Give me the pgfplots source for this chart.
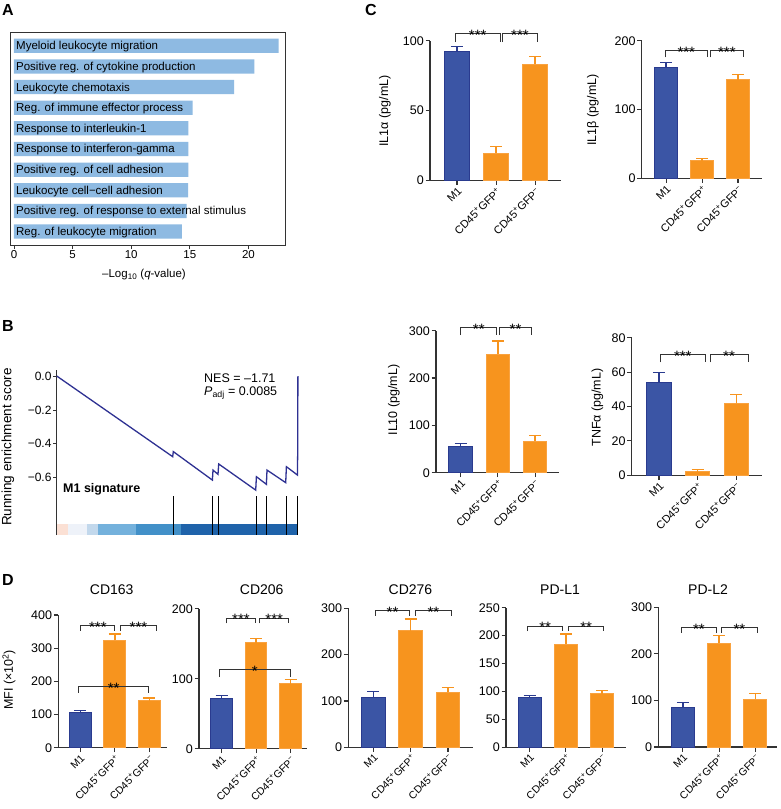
\documentclass[border=0pt]{standalone}
\usepackage{pgfplots}
\pgfplotsset{compat=1.18}
\usepackage{fontspec}
\setmainfont{Liberation Sans}
\usetikzlibrary{calc}

\definecolor{gpblue}{HTML}{3B55A5}
\definecolor{gpbluedk}{HTML}{2A3B8F}
\definecolor{gporange}{HTML}{F7941E}
\definecolor{gporangelt}{HTML}{F9A23F}
\definecolor{abar}{HTML}{8EBAE2}
\definecolor{navy}{HTML}{2E3192}
\definecolor{axgrey}{HTML}{333333}
\definecolor{b1}{HTML}{FBE0D4}
\definecolor{b2}{HTML}{EEF2F9}
\definecolor{b3}{HTML}{C2D8EC}
\definecolor{b4}{HTML}{74B1DC}
\definecolor{b5}{HTML}{4290C8}
\definecolor{b6}{HTML}{1F63AA}

\newcommand{\fs}[1]{\fontsize{#1}{#1}\selectfont}

% significance bracket: x1, x2, top y, tick end y, stars
\newcommand{\brk}[5]{%
  \draw[line width=0.9pt, axgrey] (axis cs:#1,#4) -- (axis cs:#1,#3) -- (axis cs:#2,#3) -- (axis cs:#2,#4);
  \node[anchor=base, inner sep=0pt, yshift=-6.5pt, font=\fs{15}] at ($(axis cs:#1,#3)!0.5!(axis cs:#2,#3)$) {#5};
}

\pgfplotsset{
  gp/.style={anchor=south west, scale only axis, axis lines*=left,
    axis line style={line width=1.1pt, axgrey, -},
    tick style={line width=1.1pt, axgrey},
    tick align=outside, major tick length=4.5pt,
    ymin=0, xtick={1,2,3}, clip=false,
    xticklabels={M1, CD45\textsuperscript{+}GFP\textsuperscript{+}, CD45\textsuperscript{+}GFP\textsuperscript{−}},
    xticklabel style={rotate=45, anchor=north east, inner sep=1pt, font=\fs{10.5}},
    yticklabel style={font=\fs{12.5}, inner sep=1.5pt},
    /pgf/number format/assume math mode=true},
  gpb/.style={ybar, bar width=0.63, bar shift=0pt, fill=gpblue, draw=gpbluedk, line width=1pt,
    error bars/.cd, y dir=plus, y explicit,
    error bar style={line width=1.4pt, gpbluedk},
    error mark options={rotate=90, mark size=6pt, line width=1.4pt, gpbluedk}},
  gpo/.style={ybar, bar width=0.63, bar shift=0pt, fill=gporange, draw=gporangelt, line width=1pt,
    error bars/.cd, y dir=plus, y explicit,
    error bar style={line width=1.4pt, gporange},
    error mark options={rotate=90, mark size=6pt, line width=1.4pt, gporange}},
}

\begin{document}
\begin{tikzpicture}
\path[use as bounding box, fill=white] (0pt,0pt) rectangle (781pt,-809pt);

% ---------- panel labels
\node[font=\bfseries\fs{16}] at (8pt,-10pt) {A};
\node[font=\bfseries\fs{16}] at (8pt,-326pt) {B};
\node[font=\bfseries\fs{16}] at (371pt,-10pt) {C};
\node[font=\bfseries\fs{16}] at (8pt,-580pt) {D};

% ---------- A: GO terms
\begin{axis}[at={(10pt,-245pt)}, anchor=south west, scale only axis,
  width=275pt, height=212.7pt,
  xmin=-0.34, xmax=23.12, ymin=0.35, ymax=10.65, y dir=reverse,
  axis line style={line width=0.8pt, axgrey},
  ytick=\empty, xtick={0,5,10,15,20}, xtick pos=left,
  tick align=outside, major tick length=4pt,
  tick style={line width=0.8pt, axgrey},
  xticklabel style={font=\fs{11.5}, inner sep=1.5pt},
  /pgf/number format/assume math mode=true, clip=false]
\addplot[xbar, bar width=0.69, bar shift=0pt, fill=abar, draw=none] coordinates {
  (22.58,1) (20.50,2) (18.77,3) (15.25,4) (14.87,5)
  (14.87,6) (14.87,7) (14.85,8) (14.73,9) (14.33,10)};
\begin{scope}[every node/.style={anchor=base west, inner sep=0pt, yshift=-4pt, font=\fs{11.5}}]
\node at (axis cs:0.17,1) {Myeloid leukocyte migration};
\node at (axis cs:0.17,2) {Positive reg. of cytokine production};
\node at (axis cs:0.17,3) {Leukocyte chemotaxis};
\node at (axis cs:0.17,4) {Reg. of immune effector process};
\node at (axis cs:0.17,5) {Response to interleukin-1};
\node at (axis cs:0.17,6) {Response to interferon-gamma};
\node at (axis cs:0.17,7) {Positive reg. of cell adhesion};
\node at (axis cs:0.17,8) {Leukocyte cell−cell adhesion};
\node at (axis cs:0.17,9) {Positive reg. of response to external stimulus};
\node at (axis cs:0.17,10) {Reg. of leukocyte migration};
\end{scope}
\end{axis}
\node[font=\fs{11.5}] at (144pt,-275pt) {–Log\textsubscript{10} (\textit{q}-value)};

% ---------- B: GSEA
\begin{axis}[at={(56.7pt,-535pt)}, anchor=south west, scale only axis,
  width=241pt, height=165pt,
  xmin=0, xmax=241, ymin=-0.938, ymax=0.0354,
  axis lines*=left, axis line style={line width=0.8pt, axgrey, -},
  x axis line style={draw=none}, xtick=\empty,
  ytick={-0.6,-0.4,-0.2,0}, yticklabels={−0.6,−0.4,−0.2,0.0},
  tick align=outside, major tick length=3.5pt,
  tick style={line width=0.8pt, axgrey},
  yticklabel style={font=\fs{12}, inner sep=1.5pt}, clip=false]
\addplot[fill=b1, draw=none] coordinates {(0,-0.938) (11,-0.938) (11,-0.873) (0,-0.873)};
\addplot[fill=b2, draw=none] coordinates {(11,-0.938) (30.7,-0.938) (30.7,-0.873) (11,-0.873)};
\addplot[fill=b3, draw=none] coordinates {(30.7,-0.938) (41.7,-0.938) (41.7,-0.873) (30.7,-0.873)};
\addplot[fill=b4, draw=none] coordinates {(41.7,-0.938) (79,-0.938) (79,-0.873) (41.7,-0.873)};
\addplot[fill=b5, draw=none] coordinates {(79,-0.938) (124.3,-0.938) (124.3,-0.873) (79,-0.873)};
\addplot[fill=b6, draw=none] coordinates {(124.3,-0.938) (241,-0.938) (241,-0.873) (124.3,-0.873)};
\addplot[black, line width=0.7pt] coordinates {(116.3,-0.708) (116.3,-0.938)};
\addplot[black, line width=0.7pt] coordinates {(156,-0.708) (156,-0.938)};
\addplot[black, line width=0.7pt] coordinates {(161.7,-0.708) (161.7,-0.938)};
\addplot[black, line width=0.7pt] coordinates {(199.3,-0.708) (199.3,-0.938)};
\addplot[black, line width=0.7pt] coordinates {(210,-0.708) (210,-0.938)};
\addplot[black, line width=0.7pt] coordinates {(229.3,-0.708) (229.3,-0.938)};
\addplot[black, line width=0.7pt] coordinates {(241,-0.708) (241,-0.938)};
\addplot[navy, line width=1.3pt] coordinates {
  (0,0) (116,-0.476) (116.6,-0.446) (155.7,-0.614) (156.3,-0.555)
  (161.3,-0.580) (162,-0.519) (199,-0.673) (199.7,-0.594) (209.7,-0.639)
  (210.3,-0.555) (229,-0.629) (229.7,-0.535) (240.7,-0.584) (241,-0.45) (241.2,0)};
\end{axis}
\node[anchor=base west, font=\fs{12.5}, inner sep=0pt] at (204pt,-382pt) {NES = –1.71};
\node[anchor=base west, font=\fs{12.5}, inner sep=0pt] at (204pt,-395pt) {\textit{P}\textsubscript{adj} = 0.0085};
\node[anchor=base west, font=\bfseries\fs{12.5}, inner sep=0pt] at (63pt,-492.5pt) {M1 signature};
\node[rotate=90, font=\fs{13.5}] at (8pt,-447pt) {Running enrichment score};

% ---------- C: cytokines
\begin{axis}[gp, at={(430pt,-180.3pt)}, width=131pt, height=139.6pt,
  xmin=0.31, xmax=3.66, ymax=100, ytick={0,50,100},
  xticklabel style={font=\fs{11}}]
\addplot[gpb] coordinates {(1,92.1) +- (0,3.6)};
\addplot[gpo] coordinates {(2,19.3) +- (0,4.8) (3,83.3) +- (0,5.2)};
\brk{0.96}{2.1}{105}{99}{***}
\brk{2.17}{3.05}{105}{99}{***}
\end{axis}
\node[rotate=90, font=\fs{12.5}] at (385pt,-111pt) {IL1α (pg/mL)};

\begin{axis}[gp, at={(641.7pt,-178.3pt)}, width=120.6pt, height=137.6pt,
  xmin=0.32, xmax=3.675, ymax=200, ytick={0,100,200},
  xticklabel style={font=\fs{11}}]
\addplot[gpb] coordinates {(1,160.8) +- (0,7.2)};
\addplot[gpo] coordinates {(2,25.7) +- (0,3.3) (3,142.9) +- (0,7.7)};
\brk{0.97}{2.15}{185.5}{175.8}{***}
\brk{2.23}{3.15}{185.5}{175.8}{***}
\end{axis}
\node[rotate=90, font=\fs{12.5}] at (593pt,-110pt) {IL1β (pg/mL)};

\begin{axis}[gp, at={(436pt,-472.7pt)}, width=123.3pt, height=142pt,
  xmin=0.336, xmax=3.65, ymax=300, ytick={0,100,200,300},
  xticklabel style={font=\fs{11}}]
\addplot[gpb] coordinates {(1,54.9) +- (0,6.4)};
\addplot[gpo] coordinates {(2,250.7) +- (0,27.3) (3,66.9) +- (0,11.3)};
\brk{1}{1.97}{306}{290.8}{**}
\brk{2.05}{2.9}{306}{290.8}{**}
\end{axis}
\node[rotate=90, font=\fs{12.5}] at (394pt,-400pt) {IL10 (pg/mL)};

\begin{axis}[gp, at={(631.7pt,-475.3pt)}, width=130.6pt, height=137.6pt,
  xmin=0.295, xmax=3.67, ymax=80, ytick={0,20,40,60,80},
  xticklabel style={font=\fs{11}}]
\addplot[gpb] coordinates {(1,53.9) +- (0,6.0)};
\addplot[gpo] coordinates {(2,2.1) +- (0,1.2) (3,41.9) +- (0,5.2)};
\brk{1.03}{2.2}{70}{65.7}{***}
\brk{2.32}{3.3}{70}{65.7}{**}
\end{axis}
\node[rotate=90, font=\fs{12.5}] at (597.5pt,-407.5pt) {TNFα (pg/mL)};

% ---------- D: surface markers
\begin{axis}[gp, at={(58.3pt,-747.7pt)}, width=108.4pt, height=132.7pt,
  xmin=0.367, xmax=3.5, ymax=400, ytick={0,100,200,300,400}]
\addplot[gpb] coordinates {(1,105.5) +- (0,6.1)};
\addplot[gpo] coordinates {(2,324.6) +- (0,18.1) (3,141.7) +- (0,8.0)};
\brk{1.02}{2.0}{367.8}{352.8}{***}
\brk{2.17}{3.2}{367.8}{352.8}{***}
\brk{0.96}{2.97}{183.9}{165.8}{**}
\end{axis}
\node[font=\fs{14}] at (111.7pt,-590pt) {CD163};
\node[rotate=90, font=\fs{12.5}] at (9pt,-680pt) {MFI (×10\textsuperscript{2})};

\begin{axis}[gp, at={(199pt,-748.7pt)}, width=107.7pt, height=140pt,
  xmin=0.34, xmax=3.47, ymax=200, ytick={0,100,200}]
\addplot[gpb] coordinates {(1,71.9) +- (0,4.3)};
\addplot[gpo] coordinates {(2,151.4) +- (0,6.2) (3,92.9) +- (0,5.7)};
\brk{1.15}{1.97}{186.2}{179}{***}
\brk{2.1}{2.95}{186.2}{179}{***}
\brk{0.92}{3.0}{112.9}{102.4}{*}
\end{axis}
\node[font=\fs{14}] at (261.7pt,-590pt) {CD206};

\begin{axis}[gp, at={(348.3pt,-747.3pt)}, width=124.7pt, height=139pt,
  xmin=0.33, xmax=3.67, ymax=300, ytick={0,100,200,300}]
\addplot[gpb] coordinates {(1,107.9) +- (0,12.2)};
\addplot[gpo] coordinates {(2,251.8) +- (0,25.2) (3,118.7) +- (0,10.8)};
\brk{1.05}{1.98}{295}{284}{**}
\brk{2.14}{3.08}{295}{284}{**}
\end{axis}
\node[font=\fs{14}] at (410.5pt,-590pt) {CD276};

\begin{axis}[gp, at={(506pt,-747.3pt)}, width=120pt, height=139.6pt,
  xmin=0.345, xmax=3.66, ymax=250, ytick={0,50,100,150,200,250}]
\addplot[gpb] coordinates {(1,89.5) +- (0,3.0)};
\addplot[gpo] coordinates {(2,185) +- (0,17.9) (3,96) +- (0,5.4)};
\brk{0.95}{1.9}{217.2}{208.2}{**}
\brk{2.07}{3.05}{217.2}{208.2}{**}
\end{axis}
\node[font=\fs{14}] at (560pt,-590pt) {PD-L1};

\begin{axis}[gp, at={(658.3pt,-747pt)}, width=118.4pt, height=139.7pt,
  xmin=0.32, xmax=3.59, ymax=300, ytick={0,100,200,300}]
\addplot[gpb] coordinates {(1,85.2) +- (0,10)};
\addplot[gpo] coordinates {(2,222.6) +- (0,16.5) (3,102.4) +- (0,12.8)};
\brk{0.96}{1.92}{256.3}{245.5}{**}
\brk{2.06}{3.06}{256.3}{245.5}{**}
\end{axis}
\node[font=\fs{14}] at (708pt,-590pt) {PD-L2};

\end{tikzpicture}
\end{document}
